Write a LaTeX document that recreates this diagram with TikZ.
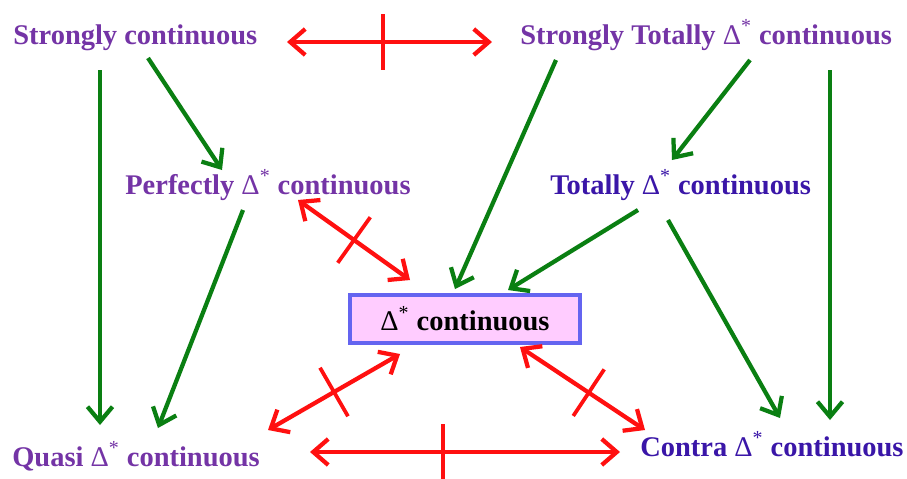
\documentclass[tikz,border=0pt]{standalone}
\usepackage{fontspec}
\setmainfont{Liberation Serif}
\usepackage{tikz}
\usetikzlibrary{arrows.meta,calc}
\definecolor{DCPurple}{HTML}{7434A6}
\definecolor{DCIndigo}{HTML}{3A16A8}
\definecolor{DCGreen}{HTML}{0A7F12}
\definecolor{DCRed}{HTML}{FF1010}
\definecolor{DCPink}{HTML}{FFCCFF}
\definecolor{DCBlue}{HTML}{6464F0}
\newcommand\Dstar{{\mdseries Δ\textsuperscript{*}}}

\begin{document}
\begin{tikzpicture}[x=0.02cm,y=-0.02cm,
  lbl/.style={anchor=base west,inner sep=0pt,font=\fontsize{16.2}{18}\selectfont\bfseries},
  imp/.style={DCGreen,line width=0.085cm,-{Straight Barb[length=3mm,width=5mm]}},
  nimp/.style={DCRed,line width=0.085cm,{Straight Barb[length=3mm,width=5.2mm]}-{Straight Barb[length=3mm,width=5.2mm]}},
  crossbar/.style={fill=DCRed,inner sep=0pt,minimum width=0.075cm,minimum height=1.12cm,sloped}]
\path[use as bounding box] (0,0) rectangle (907,478);
\fill[white] (0,0) rectangle (907,478);
% nodes
\node[lbl,DCPurple] (sc) at (13,44) {Strongly continuous};
\node[lbl,DCPurple] (stc) at (520,44) {Strongly Totally \Dstar{} continuous};
\node[lbl,DCPurple] (pc) at (125,194) {Perfectly \Dstar{} continuous};
\node[lbl,DCIndigo] (tc) at (550,194) {Totally \Dstar{} continuous};
\node[lbl,DCPurple] (qc) at (12,466) {Quasi \Dstar{} continuous};
\node[lbl,DCIndigo] (cc) at (640,456) {Contra \Dstar{} continuous};
\node[draw=DCBlue,fill=DCPink,line width=0.08cm,minimum width=4.6cm,minimum height=0.96cm,
  font=\fontsize{16.2}{18}\selectfont\bfseries] (dc) at (465,319) {\Dstar{} continuous};
% implications
\draw[imp] ($(sc.base west)+(87,26)$) -- ($(qc.base west)+(88,-41)$);
\draw[imp] ($(sc.base west)+(135,14)$) -- ($(pc.base west)+(97,-24)$);
\draw[imp] ($(pc.base west)+(118,16)$) -- ($(qc.base west)+(146,-38)$);
\draw[imp] ($(stc.base west)+(36,16)$) -- ($(dc.north)+(-10,-4)$);
\draw[imp] ($(stc.base west)+(230,16)$) -- ($(tc.base west)+(122,-34)$);
\draw[imp] ($(stc.base west)+(310,26)$) -- ($(cc.base west)+(190,-36)$);
\draw[imp] ($(tc.base west)+(88,16)$) -- ($(dc.north)+(43,-3)$);
\draw[imp] ($(tc.base west)+(118,26)$) -- ($(cc.base west)+(140,-38)$);
% non implications
\draw[nimp] ($(sc.base west)+(274,-2)$) -- node[crossbar,pos=.47]{} ($(stc.base west)+(-28,-2)$);
\draw[nimp] ($(pc.base west)+(173,6)$) -- node[crossbar,pos=.5]{} ($(dc.north west)+(62,-13)$);
\draw[nimp] ($(dc.south west)+(52,9)$) -- node[crossbar,pos=.5]{} ($(qc.base west)+(256,-36)$);
\draw[nimp] ($(dc.south east)+(-62,2)$) -- node[crossbar,pos=.55]{} ($(cc.base west)+(5,-26)$);
\draw[nimp] ($(qc.base west)+(298,-14)$) -- node[crossbar,pos=.43]{} ($(cc.base west)+(-20,-4)$);
\end{tikzpicture}
\end{document}
